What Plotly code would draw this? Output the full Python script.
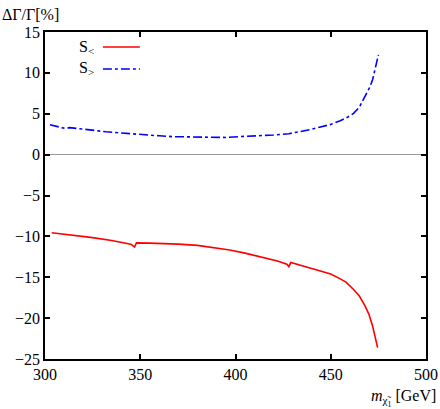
import plotly.graph_objects as go

# chargino mass [GeV] and relative correction [%]
mass_lt = [303.5, 315, 325, 335, 345, 347, 348, 355, 362, 370, 380, 390, 397, 405, 415,
           422, 427, 428, 429, 435, 440, 445, 450, 455, 458, 462, 465, 468, 470, 472,
           473.5, 474.6]
dgam_lt = [-9.55, -9.85, -10.15, -10.5, -10.95, -11.3, -10.8, -10.82, -10.85, -10.95,
           -11.1, -11.4, -11.67, -12.05, -12.6, -13.0, -13.4, -13.7, -13.2, -13.6,
           -13.9, -14.2, -14.6, -15.2, -15.6, -16.5, -17.3, -18.5, -19.5, -21.0,
           -22.3, -23.6]

mass_gt = [302.6, 306, 309, 310.5, 313, 320, 332, 340, 350, 360, 367, 375, 385, 395,
           402, 410, 420, 428, 434, 440, 444, 450, 455, 459, 462, 465, 467, 469, 470.6,
           472, 473.2, 475]
dgam_gt = [3.66, 3.5, 3.3, 3.2, 3.3, 3.1, 2.8, 2.65, 2.44, 2.3, 2.2, 2.15, 2.1, 2.1,
           2.2, 2.25, 2.4, 2.56, 2.8, 3.1, 3.34, 3.7, 4.15, 4.6, 5.05, 5.8, 6.7, 7.5,
           8.3, 9.2, 10.35, 12.2]

x_ticks = [300, 350, 400, 450, 500]
y_ticks = [15, 10, 5, 0, -5, -10, -15, -20, -25]

font = dict(family="Liberation Serif", size=16, color="black")

fig = go.Figure()
fig.add_trace(go.Scatter(x=mass_lt, y=dgam_lt, mode="lines", name="S<",
                         line=dict(color="red", width=1.6), showlegend=False))
fig.add_trace(go.Scatter(x=mass_gt, y=dgam_gt, mode="lines", name="S>",
                         line=dict(color="blue", width=1.6, dash="dashdot"),
                         showlegend=False))

axis_common = dict(showline=True, linecolor="black", linewidth=1.5, mirror="ticks",
                   ticks="inside", ticklen=5, tickwidth=1.5, tickcolor="black",
                   showgrid=False, tickfont=font, automargin=False)

fig.update_xaxes(range=[300, 500], tickvals=x_ticks, zeroline=False,
                 ticklabeloverflow="allow", **axis_common)
fig.update_yaxes(range=[-25, 15], tickvals=y_ticks, zeroline=True, zerolinecolor="#999999",
                 zerolinewidth=1, **axis_common)

# gnuplot-style legend: label then sample line
fig.add_annotation(text="S<sub><</sub>", xref="paper", yref="paper", x=0.134, y=0.954,
                   xanchor="right", yanchor="middle", showarrow=False, font=font)
fig.add_annotation(text="S<sub>></sub>", xref="paper", yref="paper", x=0.134, y=0.887,
                   xanchor="right", yanchor="middle", showarrow=False, font=font)
fig.add_shape(type="line", xref="paper", yref="paper", x0=0.152, x1=0.249, y0=0.954,
              y1=0.954, line=dict(color="red", width=1.6))
fig.add_shape(type="line", xref="paper", yref="paper", x0=0.152, x1=0.249, y0=0.887,
              y1=0.887, line=dict(color="blue", width=1.6, dash="dashdot"))

# axis titles placed like the original
fig.add_annotation(text="ΔΓ/Γ[%]", xref="paper", yref="paper", x=-0.118, y=1.055,
                   xanchor="left", yanchor="middle", showarrow=False, font=font)
fig.add_annotation(text="<i>m</i><sub>χ̃<sub>1</sub></sub> [GeV]", xref="paper",
                   yref="paper", x=1.031, y=-0.119, xanchor="right", yanchor="middle",
                   showarrow=False, font=font)

fig.update_layout(width=440, height=409, margin=dict(l=45, r=14, t=32, b=50),
                  plot_bgcolor="white", paper_bgcolor="white", font=font)

# drop the default body margin and scrollbars so the figure fills the window exactly
fig.write_html("out.html", config={"displayModeBar": False},
               post_script="document.body.style.margin = '0'; "
                           "document.body.style.overflow = 'hidden';")
